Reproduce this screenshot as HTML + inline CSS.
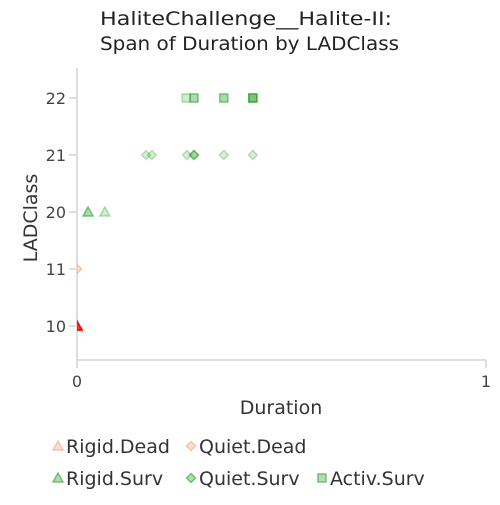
<!DOCTYPE html>
<html><head><meta charset="utf-8"><style>
body{margin:0;background:#fff;font-family:"Liberation Sans","DejaVu Sans",sans-serif}
</style></head><body>
<svg width="500" height="500" font-family="DejaVu Sans, Liberation Sans, sans-serif">
<text x="100" y="25" font-size="19" textLength="292" lengthAdjust="spacingAndGlyphs" fill="#222">HaliteChallenge__Halite-II:</text>
<text x="100" y="50" font-size="19" textLength="299" lengthAdjust="spacingAndGlyphs" fill="#222">Span of Duration by LADClass</text>
<defs><clipPath id="clip"><rect x="77" y="68" width="420" height="292"/></clipPath></defs>
<g id="axes"></g>
<g id="marks" clip-path="url(#clip)"></g>
<text x="281" y="414" font-size="19" fill="#333" text-anchor="middle">Duration</text>
<text transform="translate(37,218) rotate(-90)" font-size="19" fill="#333" text-anchor="middle">LADClass</text>
<g id="legend" font-size="19" fill="#333"></g>
</svg>
<script>
const categories=["22","21","20","11","10"];
const xTicks=[0,1];
const rigidDead=[[0,"10"],[0,"10"],[0,"10"]];
const quietDead=[[0,"11"]];
const rigidSurv=[[0.027,"20"],[0.027,"20"],[0.068,"20"]];
const quietSurv=[[0.169,"21"],[0.183,"21"],[0.269,"21"],[0.286,"21"],[0.286,"21"],[0.286,"21"],[0.359,"21"],[0.43,"21"]];
const activSurv=[[0.267,"22"],[0.286,"22"],[0.286,"22"],[0.359,"22"],[0.359,"22"],[0.43,"22"],[0.43,"22"],[0.43,"22"],[0.43,"22"]];
const NS="http://www.w3.org/2000/svg";
const X=v=>77+v*409;
const Y=c=>98+categories.indexOf(c)*57;
function mk(t,a,p){const e=document.createElementNS(NS,t);for(const k in a)e.setAttribute(k,a[k]);p.appendChild(e);return e;}
const ax=document.getElementById('axes');
let l=mk('line',{x1:77,y1:68,x2:77,y2:360,stroke:'#bbb'},ax);

l=mk('line',{x1:77,y1:360,x2:486,y2:360,stroke:'#bbb'},ax);

categories.forEach(c=>{
 const t=mk('line',{x1:69,x2:77,y1:Y(c),y2:Y(c),stroke:'#ddd','stroke-width':2},ax);
 
 const tx=mk('text',{x:66,y:Y(c)+6,'text-anchor':'end','font-size':16,fill:'#444'},ax);tx.textContent=c;
 
});
xTicks.forEach(v=>{
 const t=mk('line',{x1:X(v),x2:X(v),y1:360,y2:368,stroke:'#ddd','stroke-width':2},ax);
 
 const tx=mk('text',{x:X(v),y:387,'text-anchor':'middle','font-size':16,fill:'#444'},ax);tx.textContent=v;
 
});
function shape(kind,x,y,col,p,op){
 let e;
 if(kind==='tri')e=mk('polygon',{points:`${x},${y-5} ${x-5},${y+4} ${x+5},${y+4}`},p);
 else if(kind==='dia')e=mk('polygon',{points:`${x},${y-4.5} ${x+4.5},${y} ${x},${y+4.5} ${x-4.5},${y}`},p);
 else e=mk('rect',{x:x-4,y:y-4,width:8,height:8},p);
 e.setAttribute('fill',col);e.setAttribute('fill-opacity',op*0.6);
 e.setAttribute('stroke',col);e.setAttribute('stroke-opacity',op);e.setAttribute('stroke-width',1.5);
 return e;
}
const mg=document.getElementById('marks');
const series=[[rigidDead,'tri','#ff0000',0.7,'rigid-dead-point'],[quietDead,'dia','#f4a582',0.6,'quiet-dead-point'],
[rigidSurv,'tri','#2ca02c',0.35,'rigid-surv-point'],[quietSurv,'dia','#2ca02c',0.3,'quiet-surv-point'],[activSurv,'sq','#2ca02c',0.35,'activ-surv-point']];
series.forEach(([d,k,c,o,n])=>d.forEach(([v,cat])=>{
 const e=shape(k,X(v),Y(cat),c,mg,o);
 
 
}));
const lg=document.getElementById('legend');
const items=[['Rigid.Dead','tri','#f4a582',52,453],['Quiet.Dead','dia','#f4a582',185,453],['Rigid.Surv','tri','#2ca02c',52,485],['Quiet.Surv','dia','#2ca02c',185,485],['Activ.Surv','sq','#2ca02c',316,485]];
items.forEach(([t,k,c,x,y])=>{
 const g=mk('g',{},lg);
 
 
 shape(k,x+6,y-7,c,g,0.6);
 const tx=mk('text',{x:x+14,y:y},g);tx.textContent=t;
});
</script>
</body></html>
